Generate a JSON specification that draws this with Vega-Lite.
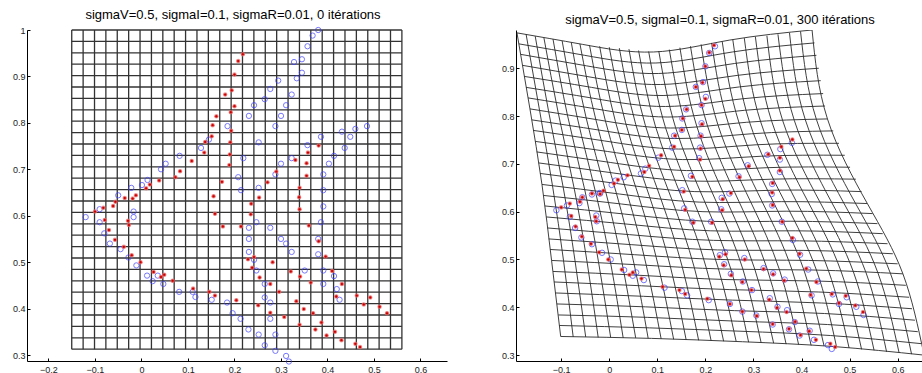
{
"$schema":"https://vega.github.io/schema/vega-lite/v6.json",
"padding":{"left":0,"right":0,"top":9,"bottom":0},
"spacing":42,
"config":{"view":{"stroke":null},"axis":{"domainColor":"#000","domainWidth":1,"tickColor":"#000","tickSize":-3,"labelColor":"#222","labelFont":"Liberation Sans","labelFontSize":9,"grid":false},"axisX":{"labelPadding":7},"axisY":{"labelPadding":5},"title":{"font":"Liberation Sans","fontSize":13,"fontWeight":"normal","color":"#000","anchor":"middle","offset":3}},
"datasets":{
"leftGrid":[
{"l":"v0","k":0,"x":-0.150,"y":0.3125},{"l":"v0","k":1,"x":-0.150,"y":1.0},
{"l":"v1","k":0,"x":-0.1255,"y":0.3125},{"l":"v1","k":1,"x":-0.1255,"y":1.0},
{"l":"v2","k":0,"x":-0.1010,"y":0.3125},{"l":"v2","k":1,"x":-0.1010,"y":1.0},
{"l":"v3","k":0,"x":-0.0766,"y":0.3125},{"l":"v3","k":1,"x":-0.0766,"y":1.0},
{"l":"v4","k":0,"x":-0.0521,"y":0.3125},{"l":"v4","k":1,"x":-0.0521,"y":1.0},
{"l":"v5","k":0,"x":-0.0276,"y":0.3125},{"l":"v5","k":1,"x":-0.0276,"y":1.0},
{"l":"v6","k":0,"x":-0.0031,"y":0.3125},{"l":"v6","k":1,"x":-0.0031,"y":1.0},
{"l":"v7","k":0,"x":0.0214,"y":0.3125},{"l":"v7","k":1,"x":0.0214,"y":1.0},
{"l":"v8","k":0,"x":0.0459,"y":0.3125},{"l":"v8","k":1,"x":0.0459,"y":1.0},
{"l":"v9","k":0,"x":0.0703,"y":0.3125},{"l":"v9","k":1,"x":0.0703,"y":1.0},
{"l":"v10","k":0,"x":0.0948,"y":0.3125},{"l":"v10","k":1,"x":0.0948,"y":1.0},
{"l":"v11","k":0,"x":0.1193,"y":0.3125},{"l":"v11","k":1,"x":0.1193,"y":1.0},
{"l":"v12","k":0,"x":0.1438,"y":0.3125},{"l":"v12","k":1,"x":0.1438,"y":1.0},
{"l":"v13","k":0,"x":0.1683,"y":0.3125},{"l":"v13","k":1,"x":0.1683,"y":1.0},
{"l":"v14","k":0,"x":0.1928,"y":0.3125},{"l":"v14","k":1,"x":0.1928,"y":1.0},
{"l":"v15","k":0,"x":0.2172,"y":0.3125},{"l":"v15","k":1,"x":0.2172,"y":1.0},
{"l":"v16","k":0,"x":0.2417,"y":0.3125},{"l":"v16","k":1,"x":0.2417,"y":1.0},
{"l":"v17","k":0,"x":0.2662,"y":0.3125},{"l":"v17","k":1,"x":0.2662,"y":1.0},
{"l":"v18","k":0,"x":0.2907,"y":0.3125},{"l":"v18","k":1,"x":0.2907,"y":1.0},
{"l":"v19","k":0,"x":0.3152,"y":0.3125},{"l":"v19","k":1,"x":0.3152,"y":1.0},
{"l":"v20","k":0,"x":0.3397,"y":0.3125},{"l":"v20","k":1,"x":0.3397,"y":1.0},
{"l":"v21","k":0,"x":0.3641,"y":0.3125},{"l":"v21","k":1,"x":0.3641,"y":1.0},
{"l":"v22","k":0,"x":0.3886,"y":0.3125},{"l":"v22","k":1,"x":0.3886,"y":1.0},
{"l":"v23","k":0,"x":0.4131,"y":0.3125},{"l":"v23","k":1,"x":0.4131,"y":1.0},
{"l":"v24","k":0,"x":0.4376,"y":0.3125},{"l":"v24","k":1,"x":0.4376,"y":1.0},
{"l":"v25","k":0,"x":0.4621,"y":0.3125},{"l":"v25","k":1,"x":0.4621,"y":1.0},
{"l":"v26","k":0,"x":0.4866,"y":0.3125},{"l":"v26","k":1,"x":0.4866,"y":1.0},
{"l":"v27","k":0,"x":0.5110,"y":0.3125},{"l":"v27","k":1,"x":0.5110,"y":1.0},
{"l":"v28","k":0,"x":0.5355,"y":0.3125},{"l":"v28","k":1,"x":0.5355,"y":1.0},
{"l":"v29","k":0,"x":0.5600,"y":0.3125},{"l":"v29","k":1,"x":0.5600,"y":1.0},
{"l":"h0","k":0,"x":-0.150,"y":1.0},{"l":"h0","k":1,"x":0.560,"y":1.0},
{"l":"h1","k":0,"x":-0.150,"y":0.9754},{"l":"h1","k":1,"x":0.560,"y":0.9754},
{"l":"h2","k":0,"x":-0.150,"y":0.9509},{"l":"h2","k":1,"x":0.560,"y":0.9509},
{"l":"h3","k":0,"x":-0.150,"y":0.9263},{"l":"h3","k":1,"x":0.560,"y":0.9263},
{"l":"h4","k":0,"x":-0.150,"y":0.9018},{"l":"h4","k":1,"x":0.560,"y":0.9018},
{"l":"h5","k":0,"x":-0.150,"y":0.8772},{"l":"h5","k":1,"x":0.560,"y":0.8772},
{"l":"h6","k":0,"x":-0.150,"y":0.8527},{"l":"h6","k":1,"x":0.560,"y":0.8527},
{"l":"h7","k":0,"x":-0.150,"y":0.8281},{"l":"h7","k":1,"x":0.560,"y":0.8281},
{"l":"h8","k":0,"x":-0.150,"y":0.8036},{"l":"h8","k":1,"x":0.560,"y":0.8036},
{"l":"h9","k":0,"x":-0.150,"y":0.7790},{"l":"h9","k":1,"x":0.560,"y":0.7790},
{"l":"h10","k":0,"x":-0.150,"y":0.7545},{"l":"h10","k":1,"x":0.560,"y":0.7545},
{"l":"h11","k":0,"x":-0.150,"y":0.7299},{"l":"h11","k":1,"x":0.560,"y":0.7299},
{"l":"h12","k":0,"x":-0.150,"y":0.7054},{"l":"h12","k":1,"x":0.560,"y":0.7054},
{"l":"h13","k":0,"x":-0.150,"y":0.6808},{"l":"h13","k":1,"x":0.560,"y":0.6808},
{"l":"h14","k":0,"x":-0.150,"y":0.6563},{"l":"h14","k":1,"x":0.560,"y":0.6563},
{"l":"h15","k":0,"x":-0.150,"y":0.6317},{"l":"h15","k":1,"x":0.560,"y":0.6317},
{"l":"h16","k":0,"x":-0.150,"y":0.6071},{"l":"h16","k":1,"x":0.560,"y":0.6071},
{"l":"h17","k":0,"x":-0.150,"y":0.5826},{"l":"h17","k":1,"x":0.560,"y":0.5826},
{"l":"h18","k":0,"x":-0.150,"y":0.5580},{"l":"h18","k":1,"x":0.560,"y":0.5580},
{"l":"h19","k":0,"x":-0.150,"y":0.5335},{"l":"h19","k":1,"x":0.560,"y":0.5335},
{"l":"h20","k":0,"x":-0.150,"y":0.5089},{"l":"h20","k":1,"x":0.560,"y":0.5089},
{"l":"h21","k":0,"x":-0.150,"y":0.4844},{"l":"h21","k":1,"x":0.560,"y":0.4844},
{"l":"h22","k":0,"x":-0.150,"y":0.4598},{"l":"h22","k":1,"x":0.560,"y":0.4598},
{"l":"h23","k":0,"x":-0.150,"y":0.4353},{"l":"h23","k":1,"x":0.560,"y":0.4353},
{"l":"h24","k":0,"x":-0.150,"y":0.4107},{"l":"h24","k":1,"x":0.560,"y":0.4107},
{"l":"h25","k":0,"x":-0.150,"y":0.3862},{"l":"h25","k":1,"x":0.560,"y":0.3862},
{"l":"h26","k":0,"x":-0.150,"y":0.3616},{"l":"h26","k":1,"x":0.560,"y":0.3616},
{"l":"h27","k":0,"x":-0.150,"y":0.3371},{"l":"h27","k":1,"x":0.560,"y":0.3371},
{"l":"h28","k":0,"x":-0.150,"y":0.3125},{"l":"h28","k":1,"x":0.560,"y":0.3125}
],
"rightGrid":[
{"l":"v0","k":0,"x":-0.192,"y":0.974},{"l":"v0","k":1,"x":-0.165,"y":0.815},{"l":"v0","k":2,"x":-0.140,"y":0.657},{"l":"v0","k":3,"x":-0.120,"y":0.498},{"l":"v0","k":4,"x":-0.101,"y":0.339},
{"l":"v1","k":0,"x":-0.173,"y":0.971},{"l":"v1","k":1,"x":-0.145,"y":0.812},{"l":"v1","k":2,"x":-0.118,"y":0.654},{"l":"v1","k":3,"x":-0.095,"y":0.497},{"l":"v1","k":4,"x":-0.075,"y":0.338},
{"l":"v2","k":0,"x":-0.154,"y":0.967},{"l":"v2","k":1,"x":-0.126,"y":0.809},{"l":"v2","k":2,"x":-0.096,"y":0.652},{"l":"v2","k":3,"x":-0.071,"y":0.496},{"l":"v2","k":4,"x":-0.049,"y":0.338},
{"l":"v3","k":0,"x":-0.136,"y":0.964},{"l":"v3","k":1,"x":-0.106,"y":0.806},{"l":"v3","k":2,"x":-0.073,"y":0.649},{"l":"v3","k":3,"x":-0.046,"y":0.494},{"l":"v3","k":4,"x":-0.023,"y":0.337},
{"l":"v4","k":0,"x":-0.117,"y":0.961},{"l":"v4","k":1,"x":-0.087,"y":0.802},{"l":"v4","k":2,"x":-0.051,"y":0.646},{"l":"v4","k":3,"x":-0.022,"y":0.493},{"l":"v4","k":4,"x":0.003,"y":0.337},
{"l":"v5","k":0,"x":-0.098,"y":0.957},{"l":"v5","k":1,"x":-0.067,"y":0.799},{"l":"v5","k":2,"x":-0.029,"y":0.643},{"l":"v5","k":3,"x":0.003,"y":0.492},{"l":"v5","k":4,"x":0.029,"y":0.336},
{"l":"v6","k":0,"x":-0.079,"y":0.954},{"l":"v6","k":1,"x":-0.048,"y":0.796},{"l":"v6","k":2,"x":-0.007,"y":0.640},{"l":"v6","k":3,"x":0.027,"y":0.491},{"l":"v6","k":4,"x":0.055,"y":0.336},
{"l":"v7","k":0,"x":-0.061,"y":0.951},{"l":"v7","k":1,"x":-0.028,"y":0.793},{"l":"v7","k":2,"x":0.015,"y":0.638},{"l":"v7","k":3,"x":0.052,"y":0.489},{"l":"v7","k":4,"x":0.081,"y":0.335},
{"l":"v8","k":0,"x":-0.041,"y":0.948},{"l":"v8","k":1,"x":-0.008,"y":0.790},{"l":"v8","k":2,"x":0.038,"y":0.635},{"l":"v8","k":3,"x":0.077,"y":0.488},{"l":"v8","k":4,"x":0.108,"y":0.334},
{"l":"v9","k":0,"x":-0.020,"y":0.946},{"l":"v9","k":1,"x":0.013,"y":0.788},{"l":"v9","k":2,"x":0.061,"y":0.633},{"l":"v9","k":3,"x":0.102,"y":0.487},{"l":"v9","k":4,"x":0.134,"y":0.333},
{"l":"v10","k":0,"x":0.000,"y":0.944},{"l":"v10","k":1,"x":0.034,"y":0.786},{"l":"v10","k":2,"x":0.084,"y":0.631},{"l":"v10","k":3,"x":0.127,"y":0.486},{"l":"v10","k":4,"x":0.160,"y":0.332},
{"l":"v11","k":0,"x":0.021,"y":0.942},{"l":"v11","k":1,"x":0.055,"y":0.783},{"l":"v11","k":2,"x":0.107,"y":0.628},{"l":"v11","k":3,"x":0.152,"y":0.484},{"l":"v11","k":4,"x":0.186,"y":0.331},
{"l":"v12","k":0,"x":0.041,"y":0.940},{"l":"v12","k":1,"x":0.075,"y":0.781},{"l":"v12","k":2,"x":0.130,"y":0.626},{"l":"v12","k":3,"x":0.177,"y":0.483},{"l":"v12","k":4,"x":0.212,"y":0.330},
{"l":"v13","k":0,"x":0.061,"y":0.937},{"l":"v13","k":1,"x":0.096,"y":0.779},{"l":"v13","k":2,"x":0.153,"y":0.624},{"l":"v13","k":3,"x":0.202,"y":0.482},{"l":"v13","k":4,"x":0.238,"y":0.329},
{"l":"v14","k":0,"x":0.082,"y":0.935},{"l":"v14","k":1,"x":0.117,"y":0.776},{"l":"v14","k":2,"x":0.176,"y":0.621},{"l":"v14","k":3,"x":0.227,"y":0.481},{"l":"v14","k":4,"x":0.264,"y":0.329},
{"l":"v15","k":0,"x":0.103,"y":0.936},{"l":"v15","k":1,"x":0.138,"y":0.776},{"l":"v15","k":2,"x":0.199,"y":0.620},{"l":"v15","k":3,"x":0.253,"y":0.480},{"l":"v15","k":4,"x":0.290,"y":0.327},
{"l":"v16","k":0,"x":0.125,"y":0.939},{"l":"v16","k":1,"x":0.160,"y":0.778},{"l":"v16","k":2,"x":0.223,"y":0.620},{"l":"v16","k":3,"x":0.278,"y":0.480},{"l":"v16","k":4,"x":0.316,"y":0.326},
{"l":"v17","k":0,"x":0.147,"y":0.943},{"l":"v17","k":1,"x":0.182,"y":0.779},{"l":"v17","k":2,"x":0.246,"y":0.620},{"l":"v17","k":3,"x":0.303,"y":0.479},{"l":"v17","k":4,"x":0.342,"y":0.325},
{"l":"v18","k":0,"x":0.169,"y":0.946},{"l":"v18","k":1,"x":0.204,"y":0.781},{"l":"v18","k":2,"x":0.270,"y":0.621},{"l":"v18","k":3,"x":0.329,"y":0.479},{"l":"v18","k":4,"x":0.368,"y":0.323},
{"l":"v19","k":0,"x":0.191,"y":0.950},{"l":"v19","k":1,"x":0.226,"y":0.782},{"l":"v19","k":2,"x":0.294,"y":0.621},{"l":"v19","k":3,"x":0.354,"y":0.479},{"l":"v19","k":4,"x":0.394,"y":0.322},
{"l":"v20","k":0,"x":0.213,"y":0.953},{"l":"v20","k":1,"x":0.248,"y":0.784},{"l":"v20","k":2,"x":0.318,"y":0.621},{"l":"v20","k":3,"x":0.380,"y":0.479},{"l":"v20","k":4,"x":0.420,"y":0.320},
{"l":"v21","k":0,"x":0.235,"y":0.956},{"l":"v21","k":1,"x":0.270,"y":0.786},{"l":"v21","k":2,"x":0.341,"y":0.621},{"l":"v21","k":3,"x":0.405,"y":0.478},{"l":"v21","k":4,"x":0.447,"y":0.319},
{"l":"v22","k":0,"x":0.257,"y":0.960},{"l":"v22","k":1,"x":0.292,"y":0.787},{"l":"v22","k":2,"x":0.365,"y":0.621},{"l":"v22","k":3,"x":0.431,"y":0.478},{"l":"v22","k":4,"x":0.473,"y":0.317},
{"l":"v23","k":0,"x":0.281,"y":0.963},{"l":"v23","k":1,"x":0.315,"y":0.788},{"l":"v23","k":2,"x":0.390,"y":0.620},{"l":"v23","k":3,"x":0.456,"y":0.477},{"l":"v23","k":4,"x":0.499,"y":0.315},
{"l":"v24","k":0,"x":0.304,"y":0.966},{"l":"v24","k":1,"x":0.338,"y":0.789},{"l":"v24","k":2,"x":0.414,"y":0.620},{"l":"v24","k":3,"x":0.482,"y":0.476},{"l":"v24","k":4,"x":0.525,"y":0.312},
{"l":"v25","k":0,"x":0.328,"y":0.968},{"l":"v25","k":1,"x":0.361,"y":0.790},{"l":"v25","k":2,"x":0.439,"y":0.619},{"l":"v25","k":3,"x":0.508,"y":0.474},{"l":"v25","k":4,"x":0.551,"y":0.310},
{"l":"v26","k":0,"x":0.351,"y":0.971},{"l":"v26","k":1,"x":0.385,"y":0.791},{"l":"v26","k":2,"x":0.463,"y":0.619},{"l":"v26","k":3,"x":0.534,"y":0.473},{"l":"v26","k":4,"x":0.577,"y":0.307},
{"l":"v27","k":0,"x":0.375,"y":0.974},{"l":"v27","k":1,"x":0.408,"y":0.792},{"l":"v27","k":2,"x":0.488,"y":0.618},{"l":"v27","k":3,"x":0.559,"y":0.472},{"l":"v27","k":4,"x":0.603,"y":0.305},
{"l":"v28","k":0,"x":0.398,"y":0.977},{"l":"v28","k":1,"x":0.431,"y":0.793},{"l":"v28","k":2,"x":0.512,"y":0.618},{"l":"v28","k":3,"x":0.585,"y":0.471},{"l":"v28","k":4,"x":0.629,"y":0.302},
{"l":"v29","k":0,"x":0.422,"y":0.980},{"l":"v29","k":1,"x":0.454,"y":0.794},{"l":"v29","k":2,"x":0.537,"y":0.617},{"l":"v29","k":3,"x":0.611,"y":0.470},{"l":"v29","k":4,"x":0.655,"y":0.300},
{"l":"h0","k":0,"x":-0.192,"y":0.974},{"l":"h0","k":1,"x":-0.056,"y":0.950},{"l":"h0","k":2,"x":0.092,"y":0.934},{"l":"h0","k":3,"x":0.251,"y":0.959},{"l":"h0","k":4,"x":0.422,"y":0.980},
{"l":"h1","k":0,"x":-0.188,"y":0.951},{"l":"h1","k":1,"x":-0.051,"y":0.927},{"l":"h1","k":2,"x":0.097,"y":0.911},{"l":"h1","k":3,"x":0.256,"y":0.934},{"l":"h1","k":4,"x":0.427,"y":0.953},
{"l":"h2","k":0,"x":-0.184,"y":0.929},{"l":"h2","k":1,"x":-0.047,"y":0.905},{"l":"h2","k":2,"x":0.102,"y":0.889},{"l":"h2","k":3,"x":0.261,"y":0.910},{"l":"h2","k":4,"x":0.431,"y":0.927},
{"l":"h3","k":0,"x":-0.180,"y":0.906},{"l":"h3","k":1,"x":-0.042,"y":0.882},{"l":"h3","k":2,"x":0.107,"y":0.866},{"l":"h3","k":3,"x":0.266,"y":0.885},{"l":"h3","k":4,"x":0.436,"y":0.900},
{"l":"h4","k":0,"x":-0.177,"y":0.883},{"l":"h4","k":1,"x":-0.037,"y":0.860},{"l":"h4","k":2,"x":0.112,"y":0.843},{"l":"h4","k":3,"x":0.271,"y":0.861},{"l":"h4","k":4,"x":0.440,"y":0.874},
{"l":"h5","k":0,"x":-0.173,"y":0.860},{"l":"h5","k":1,"x":-0.032,"y":0.837},{"l":"h5","k":2,"x":0.117,"y":0.820},{"l":"h5","k":3,"x":0.276,"y":0.836},{"l":"h5","k":4,"x":0.445,"y":0.847},
{"l":"h6","k":0,"x":-0.169,"y":0.838},{"l":"h6","k":1,"x":-0.028,"y":0.815},{"l":"h6","k":2,"x":0.122,"y":0.798},{"l":"h6","k":3,"x":0.281,"y":0.812},{"l":"h6","k":4,"x":0.449,"y":0.821},
{"l":"h7","k":0,"x":-0.165,"y":0.815},{"l":"h7","k":1,"x":-0.023,"y":0.792},{"l":"h7","k":2,"x":0.127,"y":0.775},{"l":"h7","k":3,"x":0.286,"y":0.787},{"l":"h7","k":4,"x":0.454,"y":0.794},
{"l":"h8","k":0,"x":-0.161,"y":0.792},{"l":"h8","k":1,"x":-0.017,"y":0.770},{"l":"h8","k":2,"x":0.136,"y":0.753},{"l":"h8","k":3,"x":0.296,"y":0.763},{"l":"h8","k":4,"x":0.466,"y":0.769},
{"l":"h9","k":0,"x":-0.158,"y":0.770},{"l":"h9","k":1,"x":-0.010,"y":0.748},{"l":"h9","k":2,"x":0.144,"y":0.731},{"l":"h9","k":3,"x":0.307,"y":0.740},{"l":"h9","k":4,"x":0.478,"y":0.743},
{"l":"h10","k":0,"x":-0.154,"y":0.747},{"l":"h10","k":1,"x":-0.004,"y":0.726},{"l":"h10","k":2,"x":0.153,"y":0.709},{"l":"h10","k":3,"x":0.317,"y":0.716},{"l":"h10","k":4,"x":0.490,"y":0.718},
{"l":"h11","k":0,"x":-0.151,"y":0.725},{"l":"h11","k":1,"x":0.002,"y":0.703},{"l":"h11","k":2,"x":0.161,"y":0.686},{"l":"h11","k":3,"x":0.328,"y":0.692},{"l":"h11","k":4,"x":0.501,"y":0.693},
{"l":"h12","k":0,"x":-0.147,"y":0.702},{"l":"h12","k":1,"x":0.008,"y":0.681},{"l":"h12","k":2,"x":0.170,"y":0.664},{"l":"h12","k":3,"x":0.338,"y":0.668},{"l":"h12","k":4,"x":0.513,"y":0.668},
{"l":"h13","k":0,"x":-0.144,"y":0.680},{"l":"h13","k":1,"x":0.015,"y":0.659},{"l":"h13","k":2,"x":0.178,"y":0.642},{"l":"h13","k":3,"x":0.349,"y":0.645},{"l":"h13","k":4,"x":0.525,"y":0.642},
{"l":"h14","k":0,"x":-0.140,"y":0.657},{"l":"h14","k":1,"x":0.021,"y":0.637},{"l":"h14","k":2,"x":0.187,"y":0.620},{"l":"h14","k":3,"x":0.359,"y":0.621},{"l":"h14","k":4,"x":0.537,"y":0.617},
{"l":"h15","k":0,"x":-0.137,"y":0.634},{"l":"h15","k":1,"x":0.026,"y":0.616},{"l":"h15","k":2,"x":0.195,"y":0.600},{"l":"h15","k":3,"x":0.368,"y":0.601},{"l":"h15","k":4,"x":0.548,"y":0.596},
{"l":"h16","k":0,"x":-0.134,"y":0.612},{"l":"h16","k":1,"x":0.032,"y":0.595},{"l":"h16","k":2,"x":0.202,"y":0.580},{"l":"h16","k":3,"x":0.378,"y":0.580},{"l":"h16","k":4,"x":0.558,"y":0.575},
{"l":"h17","k":0,"x":-0.131,"y":0.589},{"l":"h17","k":1,"x":0.037,"y":0.574},{"l":"h17","k":2,"x":0.210,"y":0.560},{"l":"h17","k":3,"x":0.387,"y":0.560},{"l":"h17","k":4,"x":0.569,"y":0.554},
{"l":"h18","k":0,"x":-0.129,"y":0.566},{"l":"h18","k":1,"x":0.042,"y":0.552},{"l":"h18","k":2,"x":0.217,"y":0.540},{"l":"h18","k":3,"x":0.396,"y":0.539},{"l":"h18","k":4,"x":0.579,"y":0.533},
{"l":"h19","k":0,"x":-0.126,"y":0.543},{"l":"h19","k":1,"x":0.047,"y":0.531},{"l":"h19","k":2,"x":0.225,"y":0.520},{"l":"h19","k":3,"x":0.405,"y":0.519},{"l":"h19","k":4,"x":0.590,"y":0.512},
{"l":"h20","k":0,"x":-0.123,"y":0.521},{"l":"h20","k":1,"x":0.053,"y":0.510},{"l":"h20","k":2,"x":0.232,"y":0.500},{"l":"h20","k":3,"x":0.415,"y":0.498},{"l":"h20","k":4,"x":0.600,"y":0.491},
{"l":"h21","k":0,"x":-0.120,"y":0.498},{"l":"h21","k":1,"x":0.058,"y":0.489},{"l":"h21","k":2,"x":0.240,"y":0.480},{"l":"h21","k":3,"x":0.424,"y":0.478},{"l":"h21","k":4,"x":0.611,"y":0.470},
{"l":"h22","k":0,"x":-0.117,"y":0.475},{"l":"h22","k":1,"x":0.062,"y":0.467},{"l":"h22","k":2,"x":0.245,"y":0.458},{"l":"h22","k":3,"x":0.430,"y":0.455},{"l":"h22","k":4,"x":0.617,"y":0.446},
{"l":"h23","k":0,"x":-0.115,"y":0.453},{"l":"h23","k":1,"x":0.067,"y":0.445},{"l":"h23","k":2,"x":0.251,"y":0.437},{"l":"h23","k":3,"x":0.436,"y":0.432},{"l":"h23","k":4,"x":0.624,"y":0.421},
{"l":"h24","k":0,"x":-0.112,"y":0.430},{"l":"h24","k":1,"x":0.071,"y":0.423},{"l":"h24","k":2,"x":0.256,"y":0.415},{"l":"h24","k":3,"x":0.442,"y":0.409},{"l":"h24","k":4,"x":0.630,"y":0.397},
{"l":"h25","k":0,"x":-0.109,"y":0.407},{"l":"h25","k":1,"x":0.075,"y":0.401},{"l":"h25","k":2,"x":0.261,"y":0.393},{"l":"h25","k":3,"x":0.448,"y":0.387},{"l":"h25","k":4,"x":0.636,"y":0.373},
{"l":"h26","k":0,"x":-0.106,"y":0.384},{"l":"h26","k":1,"x":0.079,"y":0.379},{"l":"h26","k":2,"x":0.266,"y":0.371},{"l":"h26","k":3,"x":0.454,"y":0.364},{"l":"h26","k":4,"x":0.642,"y":0.349},
{"l":"h27","k":0,"x":-0.104,"y":0.362},{"l":"h27","k":1,"x":0.084,"y":0.357},{"l":"h27","k":2,"x":0.272,"y":0.350},{"l":"h27","k":3,"x":0.460,"y":0.341},{"l":"h27","k":4,"x":0.649,"y":0.324},
{"l":"h28","k":0,"x":-0.101,"y":0.339},{"l":"h28","k":1,"x":0.088,"y":0.335},{"l":"h28","k":2,"x":0.277,"y":0.328},{"l":"h28","k":3,"x":0.466,"y":0.318},{"l":"h28","k":4,"x":0.655,"y":0.300}
],
"red":[
{"x":0.218,"y":0.948},{"x":0.208,"y":0.933},{"x":0.200,"y":0.904},{"x":0.194,"y":0.870},{"x":0.180,"y":0.861},{"x":0.200,"y":0.836},{"x":0.192,"y":0.823},{"x":0.161,"y":0.814},{"x":0.153,"y":0.795},{"x":0.193,"y":0.783},
{"x":0.151,"y":0.771},{"x":0.137,"y":0.759},{"x":0.191,"y":0.758},{"x":0.135,"y":0.736},{"x":0.190,"y":0.732},{"x":0.108,"y":0.718},{"x":0.189,"y":0.709},{"x":0.083,"y":0.696},{"x":0.073,"y":0.683},{"x":0.038,"y":0.676},
{"x":0.173,"y":0.673},{"x":0.018,"y":0.667},{"x":0.010,"y":0.659},{"x":-0.012,"y":0.644},{"x":0.155,"y":0.642},{"x":0.381,"y":0.751},{"x":0.358,"y":0.736},{"x":0.331,"y":0.720},{"x":0.355,"y":0.713},{"x":0.290,"y":0.695},
{"x":0.355,"y":0.686},{"x":0.271,"y":0.672},{"x":0.340,"y":0.660},{"x":-0.036,"y":0.638},{"x":-0.019,"y":0.637},{"x":0.236,"y":0.626},{"x":0.253,"y":0.639},{"x":-0.082,"y":0.617},{"x":-0.100,"y":0.609},{"x":-0.061,"y":0.621},
{"x":-0.056,"y":0.630},{"x":0.158,"y":0.604},{"x":0.235,"y":0.603},{"x":-0.079,"y":0.591},{"x":-0.029,"y":0.589},{"x":-0.027,"y":0.580},{"x":0.175,"y":0.577},{"x":0.214,"y":0.577},{"x":-0.070,"y":0.569},{"x":-0.057,"y":0.548},
{"x":-0.038,"y":0.533},{"x":-0.021,"y":0.515},{"x":0.242,"y":0.511},{"x":0.229,"y":0.506},{"x":-0.002,"y":0.500},{"x":0.238,"y":0.488},{"x":0.026,"y":0.479},{"x":0.049,"y":0.473},{"x":0.042,"y":0.468},{"x":0.067,"y":0.460},
{"x":0.111,"y":0.443},{"x":0.146,"y":0.436},{"x":0.158,"y":0.428},{"x":0.204,"y":0.418},{"x":0.251,"y":0.407},{"x":0.339,"y":0.640},{"x":0.340,"y":0.614},{"x":0.360,"y":0.579},{"x":0.381,"y":0.545},{"x":0.396,"y":0.512},
{"x":0.282,"y":0.500},{"x":0.321,"y":0.480},{"x":0.410,"y":0.481},{"x":0.341,"y":0.469},{"x":0.254,"y":0.467},{"x":0.364,"y":0.456},{"x":0.431,"y":0.453},{"x":0.277,"y":0.453},{"x":0.296,"y":0.436},{"x":0.419,"y":0.426},
{"x":0.463,"y":0.428},{"x":0.492,"y":0.424},{"x":0.333,"y":0.416},{"x":0.478,"y":0.409},{"x":0.349,"y":0.399},{"x":0.512,"y":0.404},{"x":0.369,"y":0.390},{"x":0.528,"y":0.390},{"x":0.277,"y":0.391},{"x":0.307,"y":0.382},
{"x":0.387,"y":0.370},{"x":0.340,"y":0.365},{"x":0.374,"y":0.355},{"x":0.416,"y":0.350},{"x":0.398,"y":0.342},{"x":0.430,"y":0.332},{"x":0.460,"y":0.324},{"x":0.470,"y":0.317}
],
"blueL":[
{"x":0.242,"y":0.838},{"x":0.231,"y":0.815},{"x":0.185,"y":0.793},{"x":0.145,"y":0.764},{"x":0.252,"y":0.758},{"x":0.128,"y":0.746},{"x":0.082,"y":0.729},{"x":0.219,"y":0.724},{"x":0.052,"y":0.712},{"x":0.042,"y":0.700},
{"x":0.208,"y":0.683},{"x":0.013,"y":0.677},{"x":0.001,"y":0.666},{"x":-0.022,"y":0.660},{"x":0.214,"y":0.655},{"x":-0.050,"y":0.644},{"x":0.252,"y":0.660},{"x":0.380,"y":1.000},{"x":0.368,"y":0.988},{"x":0.357,"y":0.965},
{"x":0.345,"y":0.937},{"x":0.328,"y":0.931},{"x":0.345,"y":0.908},{"x":0.334,"y":0.896},{"x":0.294,"y":0.891},{"x":0.277,"y":0.873},{"x":0.323,"y":0.861},{"x":0.265,"y":0.851},{"x":0.311,"y":0.838},{"x":0.300,"y":0.815},
{"x":0.288,"y":0.793},{"x":0.485,"y":0.793},{"x":0.460,"y":0.787},{"x":0.431,"y":0.781},{"x":0.449,"y":0.770},{"x":0.386,"y":0.770},{"x":0.357,"y":0.752},{"x":0.437,"y":0.746},{"x":0.414,"y":0.729},{"x":0.323,"y":0.724},
{"x":0.403,"y":0.712},{"x":0.300,"y":0.712},{"x":0.288,"y":0.689},{"x":0.391,"y":0.689},{"x":0.391,"y":0.655},{"x":-0.090,"y":0.614},{"x":-0.120,"y":0.597},{"x":-0.090,"y":0.586},{"x":-0.017,"y":0.609},{"x":-0.017,"y":0.597},
{"x":-0.080,"y":0.562},{"x":-0.068,"y":0.540},{"x":-0.045,"y":0.528},{"x":-0.028,"y":0.510},{"x":-0.011,"y":0.493},{"x":0.012,"y":0.471},{"x":0.035,"y":0.471},{"x":0.024,"y":0.459},{"x":0.047,"y":0.453},{"x":0.081,"y":0.436},
{"x":0.110,"y":0.436},{"x":0.116,"y":0.425},{"x":0.151,"y":0.419},{"x":0.184,"y":0.413},{"x":0.196,"y":0.390},{"x":0.213,"y":0.378},{"x":0.230,"y":0.355},{"x":0.252,"y":0.344},{"x":0.247,"y":0.586},{"x":0.231,"y":0.574},
{"x":0.231,"y":0.550},{"x":0.231,"y":0.522},{"x":0.242,"y":0.505},{"x":0.247,"y":0.482},{"x":0.391,"y":0.620},{"x":0.386,"y":0.586},{"x":0.277,"y":0.574},{"x":0.300,"y":0.550},{"x":0.311,"y":0.540},{"x":0.380,"y":0.550},
{"x":0.323,"y":0.522},{"x":0.380,"y":0.517},{"x":0.351,"y":0.482},{"x":0.391,"y":0.482},{"x":0.414,"y":0.470},{"x":0.265,"y":0.453},{"x":0.391,"y":0.453},{"x":0.420,"y":0.442},{"x":0.426,"y":0.419},{"x":0.265,"y":0.424},
{"x":0.277,"y":0.413},{"x":0.277,"y":0.378},{"x":0.288,"y":0.344},{"x":0.265,"y":0.321},{"x":0.288,"y":0.309},{"x":0.311,"y":0.298},{"x":0.317,"y":0.286}
],
"blueR":[
{"x":0.220,"y":0.946},{"x":0.208,"y":0.932},{"x":0.200,"y":0.904},{"x":0.195,"y":0.871},{"x":0.180,"y":0.861},{"x":0.201,"y":0.840},{"x":0.192,"y":0.823},{"x":0.160,"y":0.814},{"x":0.152,"y":0.795},{"x":0.192,"y":0.785},
{"x":0.151,"y":0.771},{"x":0.135,"y":0.759},{"x":0.190,"y":0.759},{"x":0.131,"y":0.734},{"x":0.189,"y":0.734},{"x":0.102,"y":0.713},{"x":0.187,"y":0.712},{"x":0.075,"y":0.690},{"x":0.066,"y":0.680},{"x":0.030,"y":0.672},
{"x":0.170,"y":0.675},{"x":0.013,"y":0.665},{"x":0.005,"y":0.656},{"x":-0.020,"y":0.639},{"x":0.152,"y":0.645},{"x":0.380,"y":0.744},{"x":0.356,"y":0.731},{"x":0.329,"y":0.719},{"x":0.355,"y":0.709},{"x":0.288,"y":0.697},
{"x":0.355,"y":0.683},{"x":0.269,"y":0.674},{"x":0.339,"y":0.658},{"x":-0.036,"y":0.636},{"x":-0.019,"y":0.638},{"x":0.234,"y":0.629},{"x":0.250,"y":0.638},{"x":-0.088,"y":0.613},{"x":-0.110,"y":0.603},{"x":-0.062,"y":0.618},
{"x":-0.056,"y":0.630},{"x":0.156,"y":0.607},{"x":0.233,"y":0.605},{"x":-0.082,"y":0.589},{"x":-0.027,"y":0.592},{"x":-0.026,"y":0.580},{"x":0.173,"y":0.579},{"x":0.212,"y":0.579},{"x":-0.071,"y":0.566},{"x":-0.058,"y":0.546},
{"x":-0.036,"y":0.532},{"x":-0.015,"y":0.514},{"x":0.241,"y":0.515},{"x":0.230,"y":0.509},{"x":0.003,"y":0.500},{"x":0.239,"y":0.490},{"x":0.031,"y":0.478},{"x":0.056,"y":0.473},{"x":0.049,"y":0.466},{"x":0.072,"y":0.457},
{"x":0.115,"y":0.441},{"x":0.151,"y":0.434},{"x":0.162,"y":0.425},{"x":0.207,"y":0.415},{"x":0.251,"y":0.407},{"x":0.338,"y":0.637},{"x":0.339,"y":0.613},{"x":0.359,"y":0.579},{"x":0.382,"y":0.541},{"x":0.397,"y":0.510},
{"x":0.281,"y":0.503},{"x":0.321,"y":0.482},{"x":0.414,"y":0.479},{"x":0.341,"y":0.471},{"x":0.253,"y":0.470},{"x":0.365,"y":0.458},{"x":0.434,"y":0.454},{"x":0.278,"y":0.454},{"x":0.297,"y":0.436},{"x":0.421,"y":0.425},
{"x":0.465,"y":0.427},{"x":0.494,"y":0.421},{"x":0.334,"y":0.419},{"x":0.478,"y":0.407},{"x":0.350,"y":0.401},{"x":0.514,"y":0.401},{"x":0.370,"y":0.394},{"x":0.529,"y":0.384},{"x":0.277,"y":0.391},{"x":0.306,"y":0.383},
{"x":0.386,"y":0.369},{"x":0.340,"y":0.364},{"x":0.374,"y":0.354},{"x":0.417,"y":0.351},{"x":0.396,"y":0.341},{"x":0.426,"y":0.332},{"x":0.455,"y":0.321},{"x":0.463,"y":0.313}
]
},
"hconcat":[
{
"title":{"text":"sigmaV=0.5, sigmaI=0.1, sigmaR=0.01, 0 itérations","dx":-4},
"width":420,"height":331,
"encoding":{
"x":{"field":"x","type":"quantitative","title":null,"scale":{"domain":[-0.2462,0.657],"nice":false,"zero":false},"axis":{"values":[-0.2,-0.1,0,0.1,0.2,0.3,0.4,0.5,0.6],"format":"~g","minExtent":9,"maxExtent":9}},
"y":{"field":"y","type":"quantitative","title":null,"scale":{"domain":[0.2871,1.0],"nice":false,"zero":false},"axis":{"values":[0.3,0.4,0.5,0.6,0.7,0.8,0.9,1],"format":"~g","minExtent":27,"maxExtent":27}}
},
"layer":[
{"data":{"name":"leftGrid"},"mark":{"type":"line","color":"#333333","strokeWidth":1.3},"encoding":{"detail":{"field":"l","type":"nominal"},"order":{"field":"k","type":"quantitative"}}},
{"data":{"name":"blueL"},"mark":{"type":"point","shape":"circle","filled":false,"color":"#3d3dff","size":28,"strokeWidth":1}},
{"data":{"name":"red"},"mark":{"type":"point","shape":"circle","filled":true,"fill":"#c80000","stroke":"#f07070","strokeWidth":1.2,"strokeOpacity":0.7,"fillOpacity":1,"size":11}}
]
},
{
"title":{"text":"sigmaV=0.5, sigmaI=0.1, sigmaR=0.01, 300 itérations","dx":1},
"width":406,"height":331,
"encoding":{
"x":{"field":"x","type":"quantitative","title":null,"scale":{"domain":[-0.194,0.6507],"nice":false,"zero":false},"axis":{"values":[-0.1,0,0.1,0.2,0.3,0.4,0.5,0.6],"format":"~g","minExtent":9,"maxExtent":9}},
"y":{"field":"y","type":"quantitative","title":null,"scale":{"domain":[0.2877,0.980],"nice":false,"zero":false},"axis":{"values":[0.3,0.4,0.5,0.6,0.7,0.8,0.9],"format":"~g","minExtent":27,"maxExtent":27}}
},
"layer":[
{"data":{"name":"rightGrid"},"mark":{"type":"line","color":"#2a2a2a","strokeWidth":0.9,"interpolate":"natural","clip":true},"encoding":{"detail":{"field":"l","type":"nominal"},"order":{"field":"k","type":"quantitative"}}},
{"data":{"name":"blueR"},"mark":{"type":"point","shape":"circle","filled":false,"color":"#3d3dff","size":30,"strokeWidth":1}},
{"data":{"name":"red"},"mark":{"type":"point","shape":"circle","filled":true,"fill":"#c80000","stroke":"#f07070","strokeWidth":1.2,"strokeOpacity":0.7,"fillOpacity":1,"size":11}}
]
}
]
}
